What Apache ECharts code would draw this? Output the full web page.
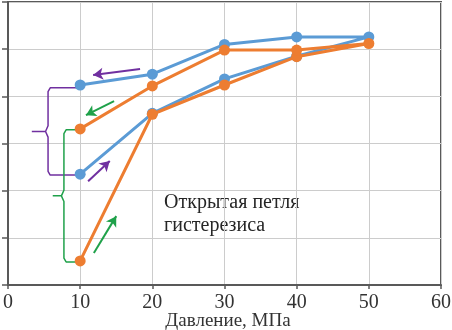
<!DOCTYPE html>
<html><head><meta charset="utf-8">
<script src="https://cdn.jsdelivr.net/npm/echarts@6/dist/echarts.min.js"></script>
<style>html,body{margin:0;padding:0;background:#fff}#c{width:452px;height:330px}</style>
</head><body><div id="c"></div>
<script>
// Data
const pressure = [10, 20, 30, 40, 50];
const blueLoading = [2.35, 3.64, 4.37, 4.85, 5.26];
const blueUnloading = [4.24, 4.47, 5.10, 5.26, 5.26];
const orangeLoading = [0.51, 3.62, 4.24, 4.84, 5.12];
const orangeUnloading = [3.31, 4.22, 4.98, 4.98, 5.12];
const xTicks = [0, 10, 20, 30, 40, 50, 60];
const xTitle = 'Давление, МПа';
const noteText = 'Открытая петля\nгистерезиса';
// annotation arrows in data units: [x1,y1,x2,y2]
const purpleArrows = [[18.3, 4.58, 11.8, 4.45], [11.1, 2.20, 14.1, 2.63]];
const greenArrows = [[14.7, 3.90, 10.8, 3.60], [11.9, 0.68, 15.0, 1.46]];
// braces: [xVertical, xTip, yTop, yBottom]
const purpleBrace = [5.55, 3.3, 4.18, 2.33];
const greenBrace = [7.75, 6.2, 3.29, 0.49];

const BLUE = '#5B9BD5', ORANGE = '#ED7D31', PURPLE = '#7030A0', GREEN = '#1FA14A';

function loop(load, unload) {
  const d = pressure.map((p, i) => [p, load[i]]);
  for (let i = pressure.length - 2; i >= 0; i--) d.push([pressure[i], unload[i]]);
  return d;
}
function brace(b) {
  const [xv, xt, yt, yb] = b;
  const mid = (yt + yb) / 2;
  return [[10, yt], [xv + 0.3, yt], [xv, yt - 0.08], [xv, mid + 0.12], [xv - 0.35, mid],
          [xt, mid], [xv - 0.35, mid], [xv, mid - 0.12], [xv, yb + 0.08], [xv + 0.3, yb], [10, yb]];
}
function arrows(list) {
  return list.map(a => [{coord: [a[0], a[1]]}, {coord: [a[2], a[3]]}]);
}
function annot(color, br, arr) {
  return {
    type: 'line', data: brace(br), showSymbol: false, symbol: 'none', silent: true,
    lineStyle: {color: color, width: 1.5}, z: 1,
    markLine: {silent: true, symbol: ['none', 'arrow'], symbolSize: [9, 10], label: {show: false},
      lineStyle: {color: color, width: 2, type: 'solid'}, data: arrows(arr)}
  };
}
const chart = echarts.init(document.getElementById('c'), null, {renderer: 'canvas'});
const font = '"Liberation Serif", "DejaVu Serif", serif';
chart.setOption({
  animation: false,
  grid: {left: 8, right: 11, top: 2, bottom: 45, show: true, borderColor: '#595959', borderWidth: 2,
    containLabel: false, outerBoundsMode: 'none'},
  xAxis: {
    type: 'value', min: 0, max: 60, interval: 10,
    axisLine: {show: true, lineStyle: {color: '#595959', width: 2}},
    axisTick: {show: true, length: 4, lineStyle: {color: '#595959', width: 1.5}},
    splitLine: {show: true, lineStyle: {color: '#cccccc', width: 1}},
    axisLabel: {color: '#333333', fontFamily: font, fontSize: 20, margin: 8,
      formatter: v => xTicks.includes(v) ? String(v) : ''},
    name: xTitle, nameLocation: 'middle', nameGap: 36, nameMoveOverlap: false,
    nameTextStyle: {color: '#333333', fontFamily: font, fontSize: 19, verticalAlign: 'middle',
      padding: [0, 0, 0, 7]}
  },
  yAxis: {
    type: 'value', min: 0, max: 6, interval: 1,
    axisLine: {show: true, lineStyle: {color: '#595959', width: 2}},
    axisTick: {show: true, length: 6, lineStyle: {color: '#595959', width: 1.5}},
    splitLine: {show: true, lineStyle: {color: '#cccccc', width: 1}},
    axisLabel: {show: false}
  },
  graphic: [{type: 'text', left: 164, top: 191, silent: true,
    style: {text: noteText, fill: '#262626', font: '20px ' + font, lineHeight: 23}}],
  series: [
    annot(PURPLE, purpleBrace, purpleArrows),
    annot(GREEN, greenBrace, greenArrows),
    {type: 'line', data: loop(blueLoading, blueUnloading), symbol: 'circle', symbolSize: 11,
      lineStyle: {color: BLUE, width: 3}, itemStyle: {color: BLUE}, z: 3},
    {type: 'line', data: loop(orangeLoading, orangeUnloading), symbol: 'circle', symbolSize: 11,
      lineStyle: {color: ORANGE, width: 3}, itemStyle: {color: ORANGE}, z: 4}
  ]
});
</script></body></html>
